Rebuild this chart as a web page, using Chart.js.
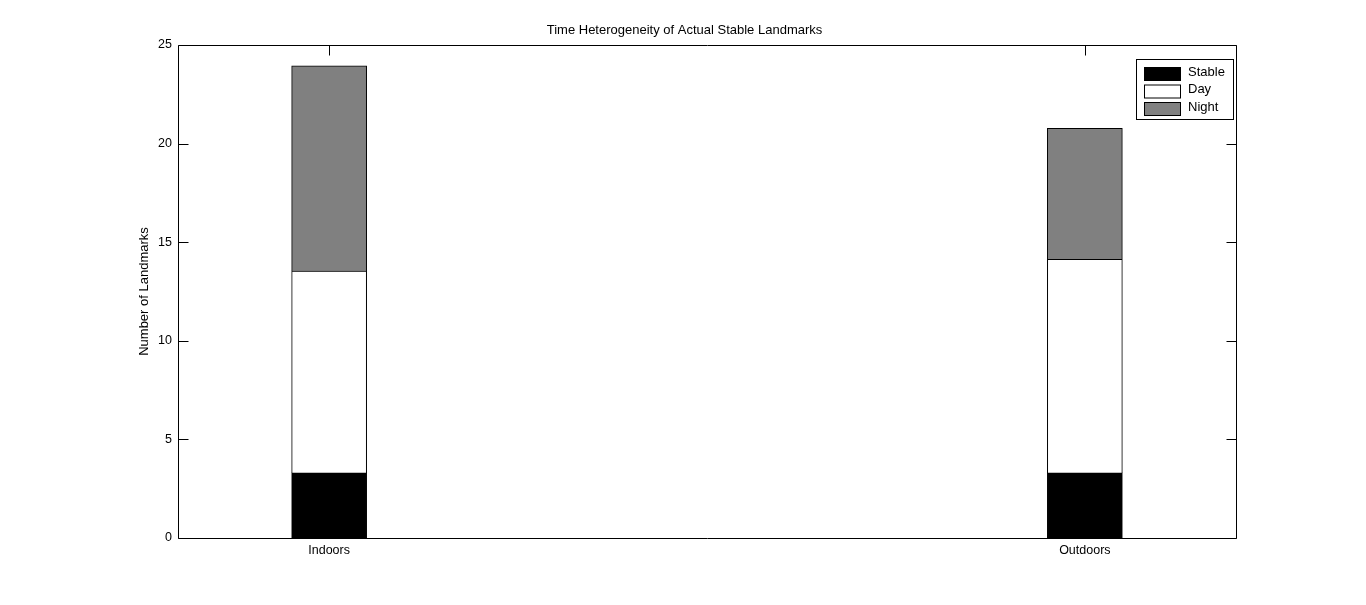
<!DOCTYPE html>
<html>
<head>
<meta charset="utf-8">
<script src="https://cdn.jsdelivr.net/npm/chart.js@4"></script>
<style>
html,body{margin:0;padding:0;background:#fff;}
#wrap{width:1366px;height:605px;}
</style>
</head>
<body>
<div id="wrap"><canvas id="c" width="1366" height="605"></canvas></div>
<script>
const categories = ["Indoors", "Outdoors"];
const stableValues = [3.3, 3.3];
const dayValues = [10.24, 10.83];
const nightValues = [10.4, 6.65];
const yTicks = [0, 5, 10, 15, 20, 25];
const seriesNames = ["Stable", "Day", "Night"];
const seriesColors = ["#000000", "#ffffff", "#808080"];

const FONT = "'Liberation Sans', Arial, sans-serif";

function toPoints(arr){ return arr.map((v,i)=>({x:i+1, y:v})); }

const boxPlugin = {
  id:'boxPlugin',
  afterDraw(chart){
    const ctx = chart.ctx, a = chart.chartArea;
    const xs = chart.scales.x, ys = chart.scales.y;
    ctx.save();
    ctx.strokeStyle = '#000';
    ctx.lineWidth = 1;
    const L = Math.round(a.left)+0.5, R = Math.round(a.right)+0.5, T = Math.round(a.top)+0.5, B = Math.round(a.bottom)+0.5;
    ctx.beginPath();
    ctx.rect(L, T, R-L, B-T);
    categories.forEach((c,i)=>{
      const px = Math.round(xs.getPixelForValue(i+1))+0.5;
      ctx.moveTo(px, T); ctx.lineTo(px, T+10);
      ctx.moveTo(px, B); ctx.lineTo(px, B-10);
    });
    yTicks.forEach(v=>{
      const py = Math.round(ys.getPixelForValue(v))+0.5;
      ctx.moveTo(L, py); ctx.lineTo(L+10, py);
      ctx.moveTo(R, py); ctx.lineTo(R-10, py);
    });
    ctx.stroke();
    const lx = 1136.5, ly = 59.5, lw = 97, lh = 60;
    ctx.fillStyle = '#fff';
    ctx.fillRect(lx, ly, lw, lh);
    ctx.strokeRect(lx, ly, lw, lh);
    ctx.font = '13px ' + FONT;
    ctx.textBaseline = 'middle';
    ctx.textAlign = 'left';
    seriesNames.forEach((n,i)=>{
      const sy = 67.5 + i*17.5;
      ctx.fillStyle = seriesColors[i];
      ctx.fillRect(1144.5, sy, 36, 13);
      ctx.strokeStyle = '#000';
      ctx.strokeRect(1144.5, sy, 36, 13);
      ctx.fillStyle = '#000';
      ctx.fillText(n, 1188, sy + 4.5);
    });
    ctx.restore();
  }
};

new Chart(document.getElementById('c'), {
  type: 'bar',
  data: {
    datasets: [
      {label: seriesNames[0], data: toPoints(stableValues), backgroundColor: seriesColors[0], borderColor:'#000', borderWidth:1},
      {label: seriesNames[1], data: toPoints(dayValues), backgroundColor: seriesColors[1], borderColor:'#000', borderWidth:1},
      {label: seriesNames[2], data: toPoints(nightValues), backgroundColor: seriesColors[2], borderColor:'#000', borderWidth:1}
    ]
  },
  options: {
    responsive: false,
    animation: false,
    barThickness: 75,
    layout: {padding: {left: 133, right: 130, top: 0, bottom: 37}},
    plugins: {
      legend: {display: false},
      tooltip: {enabled: false},
      title: {
        display: true,
        text: 'Time Heterogeneity of Actual Stable Landmarks',
        color: '#000',
        font: {family: FONT, size: 13, weight: 'normal'},
        padding: {top: 23, bottom: 6.4}
      }
    },
    scales: {
      x: {
        type: 'linear',
        stacked: true,
        offset: false,
        bounds: 'ticks',
        min: 0.8, max: 2.2,
        grid: {display: false, drawTicks: false, offset: false},
        border: {display: false},
        afterBuildTicks(s){ s.ticks = categories.map((c,i)=>({value:i+1})); },
        afterFit(s){ s.height = 30; },
        ticks: {
          color: '#000',
          font: {family: FONT, size: 12.5},
          padding: 5,
          maxRotation: 0,
          autoSkip: false,
          callback: (v)=> categories[v-1] ?? ''
        }
      },
      y: {
        stacked: true,
        min: 0, max: 25,
        grid: {display: false, drawTicks: false},
        border: {display: false},
        afterBuildTicks(s){ s.ticks = yTicks.map(v=>({value:v})); },
        afterFit(s){ s.width = 178 - 133; },
        ticks: {
          color: '#000',
          font: {family: FONT, size: 12.5},
          padding: 6
        },
        title: {
          display: true,
          text: 'Number of Landmarks',
          color: '#000',
          font: {family: FONT, size: 13},
          padding: {top: 4, bottom: 4}
        }
      }
    }
  },
  plugins: [boxPlugin]
});
</script>
</body>
</html>
